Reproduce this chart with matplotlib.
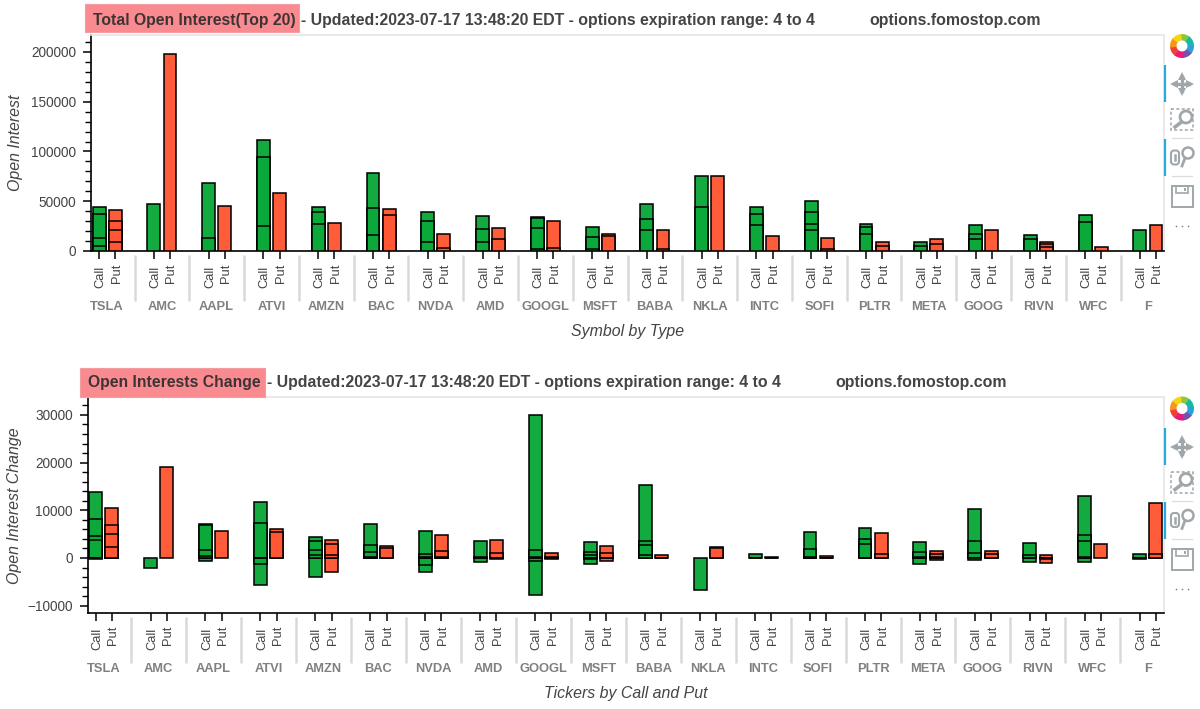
#!/usr/bin/env python3
"""Open interest dashboard: total open interest and open interest change."""

import matplotlib
matplotlib.use("Agg")
import matplotlib.pyplot as plt
from matplotlib.patches import Circle, FancyBboxPatch, Rectangle, Wedge
from matplotlib.ticker import MultipleLocator

plt.rcParams["font.family"] = ["Liberation Sans", "DejaVu Sans"]

WIDTH, HEIGHT = 1200, 709

tickers = ["TSLA", "AMC", "AAPL", "ATVI", "AMZN", "BAC", "NVDA", "AMD", "GOOGL", "MSFT",
           "BABA", "NKLA", "INTC", "SOFI", "PLTR", "META", "GOOG", "RIVN", "WFC", "F"]
types = ["Call", "Put"]

# each inner list holds the stacked levels seen on that bar
oi_call = [
    [44500, 37000, 12700, 5000], [47000], [68500, 12700], [111700, 94600, 25400],
    [43800, 39500, 27000], [78000, 42800, 15700], [38800, 30000, 8700], [35000, 21700, 8700],
    [34000, 32800, 23400, 1700], [23700, 13700, 1700], [47000, 31800, 21000], [75000, 44500],
    [44500, 36800, 25800], [50500, 39000, 27400, 21400], [27400, 23700, 17000], [8700, 5400],
    [25800, 17400, 11700], [15700, 12400], [35800, 29400], [21400],
]
oi_put = [
    [41000, 30400, 21000, 8700], [197700], [45000], [57900],
    [28000], [42500, 36000], [17000, 2700], [23400, 11700],
    [30000, 2700], [17400, 15000], [21400, 1700], [75000],
    [14700], [12700, 1700], [8700, 5400], [11700, 6700],
    [21000], [9400, 6700, 4400], [4000], [25800],
]
chg_call = [
    [13900, 8100, 4700, 3800, -200], [-2100], [7200, 6900, 1600, 500, -600],
    [11800, 7400, 100, -1200, -5700], [4300, 3500, 1700, 700, -4000], [7200, 2800, 1200, 200],
    [5700, 800, 300, -1500, -2900], [3600, 200, -800], [30000, 1600, 200, -600, -7800],
    [3400, 1300, 600, -200, -1200], [15200, 3600, 2700, 600], [-6700], [900, 100],
    [5400, 1900, 200], [6300, 4000, 2900, -100], [3300, 1300, 300, -1300],
    [10300, 3500, 1000, -500], [3100, 600, 0, -800], [13000, 4800, 3500, 200, -800],
    [800, -200],
]
chg_put = [
    [10500, 7000, 5000, 2400], [19000], [5600], [6000, 5400],
    [3800, 2900, 700, -3000], [2600, 2000], [4900, 1500, 300], [3800, 1000, -200],
    [1000, 300, -300], [2500, 1000, 0, -600], [600, 100], [2400, 2000],
    [200, 100], [500, 100], [5200, 800], [1500, 800, 300, -500],
    [1500, 900], [700, -200, -1000], [2900], [11600, 800],
]

top_title = "Total Open Interest(Top 20)"
bottom_title = "Open Interests Change"
info_text = "- Updated:2023-07-17 13:48:20 EDT - options expiration range: 4 to 4"
site_text = "options.fomostop.com"

GREEN = "#0ba83a"
ORANGE = "#ff5733"
TEXT_COLOR = "#444444"
GROUP_COLOR = "#808080"
OUTLINE = "#e6e6e6"
ICON = "#a0a7aa"
GROUP_PAD = 1.4


def add_axes_px(fig, left, top, right, bottom):
    """Axes placed by pixel edges, y measured from the top of the image."""
    return fig.add_axes([left / WIDTH, 1 - bottom / HEIGHT,
                         (right - left) / WIDTH, (bottom - top) / HEIGHT])


def draw_levels(ax, x, levels, color):
    # outermost first so the inner levels stay visible as lines
    for level in sorted(levels, key=abs, reverse=True):
        ax.bar(x, level, 0.8, color=color, edgecolor="black", linewidth=1.15, alpha=0.97, zorder=3)


def draw_panel(ax, call_levels, put_levels, ylim, major, minor, xlabel):
    height_px = ax.get_position().height * HEIGHT
    trans = ax.get_xaxis_transform()
    tick_positions = []
    step = 2 + GROUP_PAD

    for i, ticker in enumerate(tickers):
        call_x = i * step + 0.5
        put_x = call_x + 1
        draw_levels(ax, call_x, call_levels[i], GREEN)
        draw_levels(ax, put_x, put_levels[i], ORANGE)
        tick_positions += [call_x, put_x]

        for x, label, gap in [(call_x, types[0], 14.5), (put_x, types[1], 13.0)]:
            ax.text(x + 0.09, -gap / height_px, label, transform=trans, rotation=90,
                    ha="center", va="top", fontsize=9.3, color=TEXT_COLOR)
        ax.text(call_x + 0.5, -56.5 / height_px, ticker, transform=trans, ha="center",
                va="center", fontsize=9.3, fontweight="bold", color=GROUP_COLOR)
        if i < len(tickers) - 1:
            sep = put_x + (1 + GROUP_PAD) / 2
            ax.plot([sep, sep], [-4 / height_px, -50 / height_px], transform=trans,
                    color="#d9d9d9", linewidth=1.8, clip_on=False, solid_capstyle="butt")

    ax.set_xlim(0, 40 + 19 * GROUP_PAD)
    ax.set_ylim(*ylim)
    ax.set_xticks(tick_positions)
    ax.set_xticklabels([])
    ax.tick_params(axis="x", length=6, width=1.1, color="black", direction="out")
    ax.yaxis.set_major_locator(MultipleLocator(major))
    ax.yaxis.set_minor_locator(MultipleLocator(minor))
    ax.tick_params(axis="y", which="major", length=6, width=1.1, color="black",
                   labelsize=9.8, labelcolor=TEXT_COLOR, pad=4.5)
    ax.tick_params(axis="y", which="minor", length=4, width=1.0, color="black")

    for side in ["left", "bottom"]:
        ax.spines[side].set_linewidth(1.2)
        ax.spines[side].set_color("black")
    for side in ["top", "right"]:
        ax.spines[side].set_linewidth(1.2)
        ax.spines[side].set_color(OUTLINE)

    ax.text(0.5, -80.5 / height_px, xlabel, transform=ax.transAxes, ha="center", va="center",
            fontsize=11.4, fontstyle="italic", color=TEXT_COLOR)


def draw_header(overlay, box, title, title_x, info_x, site_x, y):
    x0, y0, x1, y1 = box
    overlay.add_patch(Rectangle((x0, y0), x1 - x0, y1 - y0, facecolor="#f98a90",
                                edgecolor="#f59ca0", linewidth=0.8, zorder=2))
    overlay.text(title_x, y, title, ha="left", va="center", fontsize=11.3, fontweight="bold",
                 color="#3c3434", zorder=3)
    overlay.text(info_x, y, info_text, ha="left", va="center", fontsize=11.4, fontweight="bold",
                 color=TEXT_COLOR, zorder=3)
    overlay.text(site_x, y, site_text, ha="left", va="center", fontsize=11.4, fontweight="bold",
                 color=TEXT_COLOR, zorder=3)


def draw_toolbar(overlay, dy):
    # bokeh logo
    logo_colors = ["#8cc63f", "#16b9a6", "#2c9fdc", "#7b4fa5", "#e5197e", "#ef4136", "#f7941e", "#f5d60e"]
    for i, color in enumerate(logo_colors):
        start = -90 + i * 45 - 8
        overlay.add_patch(Wedge((1182, 46 + dy), 12, start, start + 50, width=6.5, color=color, linewidth=0))

    # active tool markers
    for y0, y1 in [(65, 102), (139, 176)]:
        overlay.plot([1164.5, 1164.5], [y0 + dy, y1 + dy], color="#26aae1", linewidth=1.6,
                     solid_capstyle="butt")

    # pan
    overlay.plot([1175, 1189], [84 + dy, 84 + dy], color=ICON, linewidth=2.4)
    overlay.plot([1182, 1182], [77 + dy, 91 + dy], color=ICON, linewidth=2.4)
    for x, y, marker in [(1174, 84, "<"), (1190, 84, ">"), (1182, 76, "^"), (1182, 92, "v")]:
        overlay.plot(x, y + dy, marker=marker, color=ICON, markersize=5.5, markeredgewidth=0)

    # box zoom
    overlay.add_patch(Rectangle((1171, 109 + dy), 22, 21, fill=False, edgecolor=ICON,
                                linewidth=1.1, linestyle=(0, (2, 1.5))))
    overlay.add_patch(Circle((1186, 117 + dy), 6, facecolor="white", edgecolor=ICON, linewidth=2))
    overlay.plot([1181.5, 1175], [122 + dy, 127 + dy], color=ICON, linewidth=2.6)

    # wheel zoom
    overlay.add_patch(FancyBboxPatch((1172.5, 152 + dy), 5, 11, boxstyle="round,pad=1.5,rounding_size=3",
                                     fill=False, edgecolor=ICON, linewidth=1.5))
    overlay.plot([1175, 1175], [155 + dy, 160 + dy], color=ICON, linewidth=1.8)
    overlay.add_patch(Circle((1188, 153 + dy), 5.5, fill=False, edgecolor=ICON, linewidth=1.8))
    overlay.plot([1185, 1182], [158 + dy, 166 + dy], color=ICON, linewidth=2)

    # save
    overlay.add_patch(Rectangle((1171.5, 186 + dy), 21, 21, fill=False, edgecolor=ICON, linewidth=1.4))
    overlay.add_patch(Rectangle((1176, 186 + dy), 12, 7, fill=False, edgecolor=ICON, linewidth=1.2))
    overlay.add_patch(Rectangle((1183.5, 188 + dy), 2, 3, color=ICON, linewidth=0))
    overlay.plot([1176, 1182, 1188], [226 + dy] * 3, linestyle="none", marker="o", markersize=1.2,
                 color="#808080", markeredgewidth=0)

    # separators
    for y in [138, 176]:
        overlay.plot([1172, 1192], [y + dy, y + dy], color="#dddddd", linewidth=0.9)


def main():
    fig = plt.figure(figsize=(WIDTH / 100, HEIGHT / 100), dpi=100, facecolor="white")

    ax_top = add_axes_px(fig, 91, 35, 1164, 251)
    draw_panel(ax_top, oi_call, oi_put, (0, 217000), 50000, 10000, "Symbol by Type")

    ax_bottom = add_axes_px(fig, 87.5, 397, 1164, 613)
    draw_panel(ax_bottom, chg_call, chg_put, (-11530, 33750), 10000, 2000, "Tickers by Call and Put")

    overlay = fig.add_axes([0, 0, 1, 1], facecolor="none")
    overlay.set_xlim(0, WIDTH)
    overlay.set_ylim(HEIGHT, 0)
    overlay.axis("off")

    overlay.text(15.5, 143, "Open Interest", rotation=90, ha="center", va="center", fontsize=11.4,
                 fontstyle="italic", color=TEXT_COLOR)
    overlay.text(15, 505.5, "Open Interest Change", rotation=90, ha="center", va="center", fontsize=11.4,
                 fontstyle="italic", color=TEXT_COLOR)

    draw_header(overlay, (85, 4, 299, 32), top_title, 93, 301, 869, 20.5)
    draw_header(overlay, (80, 368, 265, 397), bottom_title, 88, 267, 835, 382.5)
    draw_toolbar(overlay, 0)
    draw_toolbar(overlay, 362.5)

    fig.savefig("out.png", dpi=100)


if __name__ == "__main__":
    main()
